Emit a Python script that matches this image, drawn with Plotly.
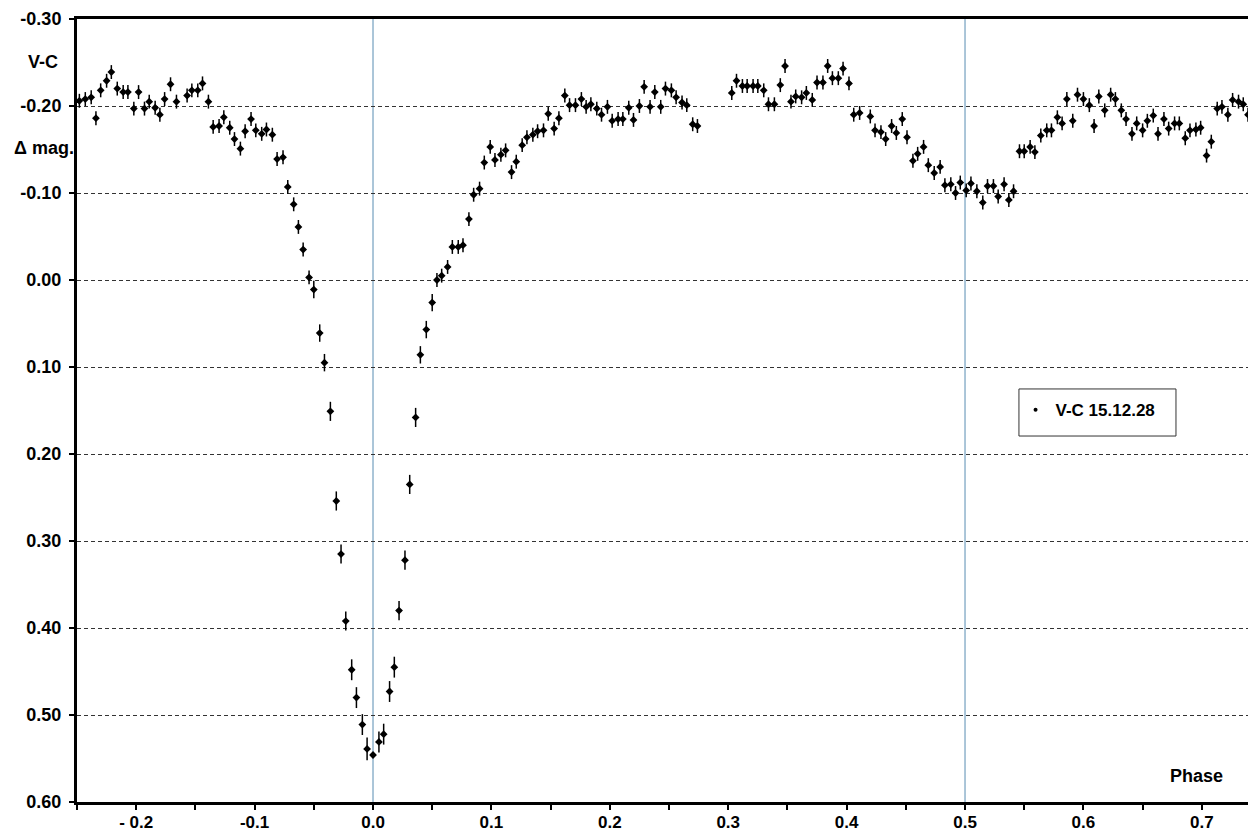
import plotly.graph_objects as go

# ---- data (phase, V-C delta mag) ----
phase_a = [-0.248, -0.243, -0.238, -0.234, -0.230, -0.225, -0.221, -0.216, -0.211, -0.207,
           -0.202, -0.198, -0.193, -0.189, -0.184, -0.180, -0.176, -0.171, -0.166]
dmag_a = [-0.206, -0.208, -0.210, -0.186, -0.218, -0.229, -0.239, -0.220, -0.216, -0.216,
          -0.197, -0.216, -0.197, -0.205, -0.198, -0.190, -0.208, -0.225, -0.205]

phase_b = [-0.157, -0.153, -0.148, -0.144, -0.139, -0.135, -0.130, -0.126, -0.121, -0.117,
           -0.112, -0.108, -0.103, -0.099, -0.094, -0.090, -0.085, -0.081, -0.076, -0.072,
           -0.067, -0.063, -0.059, -0.054]
dmag_b = [-0.212, -0.218, -0.218, -0.226, -0.205, -0.176, -0.177, -0.187, -0.175, -0.162,
          -0.151, -0.171, -0.185, -0.172, -0.168, -0.173, -0.167, -0.139, -0.141, -0.107,
          -0.087, -0.061, -0.035, -0.003]

# primary eclipse (larger uncertainties)
phase_c = [-0.050, -0.045, -0.041, -0.036, -0.031, -0.027, -0.023, -0.018, -0.014, -0.009,
           -0.005, 0.000, 0.005, 0.009, 0.014, 0.018, 0.022, 0.027, 0.031, 0.036,
           0.040, 0.045, 0.050]
dmag_c = [0.011, 0.061, 0.095, 0.151, 0.254, 0.315, 0.392, 0.448, 0.480, 0.511,
          0.539, 0.546, 0.531, 0.522, 0.473, 0.445, 0.380, 0.322, 0.235, 0.158,
          0.086, 0.057, 0.026]
err_c = [0.010, 0.010, 0.010, 0.011, 0.011, 0.011, 0.011, 0.012, 0.012, 0.012,
         0.013, 0.002, 0.012, 0.012, 0.012, 0.012, 0.011, 0.011, 0.011, 0.011,
         0.010, 0.010, 0.010]

phase_d = [0.054, 0.058, 0.063, 0.067, 0.072, 0.076, 0.081, 0.085, 0.090, 0.094,
           0.099, 0.103, 0.108, 0.112, 0.117, 0.121, 0.126, 0.130, 0.135, 0.139,
           0.144, 0.148, 0.153, 0.157, 0.162, 0.166, 0.171, 0.176, 0.180, 0.184,
           0.189, 0.193, 0.198, 0.202, 0.207, 0.211, 0.216, 0.220, 0.225, 0.229,
           0.234, 0.238, 0.243, 0.247, 0.252, 0.256, 0.261, 0.265, 0.270, 0.274]
dmag_d = [0.000, -0.005, -0.015, -0.038, -0.038, -0.040, -0.070, -0.098, -0.105, -0.135,
          -0.153, -0.138, -0.144, -0.149, -0.124, -0.136, -0.155, -0.164, -0.167, -0.171,
          -0.172, -0.191, -0.174, -0.186, -0.212, -0.201, -0.201, -0.208, -0.199, -0.202,
          -0.197, -0.190, -0.199, -0.183, -0.185, -0.185, -0.198, -0.184, -0.200, -0.222,
          -0.199, -0.216, -0.199, -0.220, -0.218, -0.210, -0.204, -0.201, -0.179, -0.177]

phase_e = [0.303, 0.307, 0.312, 0.316, 0.321, 0.325, 0.330, 0.334, 0.339, 0.344,
           0.348, 0.353, 0.357, 0.362, 0.366, 0.371, 0.375, 0.380, 0.384, 0.388,
           0.393, 0.397, 0.402, 0.406, 0.411]
dmag_e = [-0.215, -0.229, -0.223, -0.223, -0.223, -0.223, -0.218, -0.202, -0.202, -0.224,
          -0.246, -0.205, -0.211, -0.210, -0.215, -0.207, -0.227, -0.227, -0.246, -0.232,
          -0.232, -0.243, -0.226, -0.190, -0.192]

phase_f = [0.420, 0.424, 0.429, 0.433, 0.438, 0.442, 0.447, 0.451, 0.456, 0.460,
           0.465, 0.469, 0.474, 0.479, 0.483, 0.488, 0.492, 0.496, 0.501, 0.505,
           0.510, 0.515, 0.519, 0.524, 0.528, 0.533, 0.537, 0.541, 0.546, 0.550,
           0.555, 0.559, 0.564, 0.569, 0.573, 0.578, 0.582, 0.586, 0.591, 0.595,
           0.600, 0.605, 0.609, 0.613, 0.618, 0.623, 0.627, 0.632, 0.636, 0.641,
           0.645, 0.650, 0.654, 0.659, 0.663, 0.668, 0.672, 0.677, 0.681, 0.686,
           0.690, 0.695, 0.699, 0.704, 0.708, 0.713, 0.717, 0.722, 0.726, 0.731,
           0.735, 0.739]
dmag_f = [-0.188, -0.172, -0.170, -0.162, -0.177, -0.169, -0.185, -0.164, -0.137, -0.145,
          -0.153, -0.132, -0.123, -0.130, -0.109, -0.110, -0.100, -0.112, -0.103, -0.111,
          -0.102, -0.089, -0.108, -0.108, -0.096, -0.110, -0.092, -0.102, -0.148, -0.148,
          -0.153, -0.147, -0.166, -0.172, -0.172, -0.187, -0.180, -0.208, -0.183, -0.213,
          -0.208, -0.201, -0.177, -0.211, -0.195, -0.213, -0.208, -0.195, -0.185, -0.168,
          -0.180, -0.172, -0.183, -0.189, -0.168, -0.185, -0.174, -0.180, -0.180, -0.163,
          -0.172, -0.173, -0.175, -0.143, -0.159, -0.197, -0.199, -0.190, -0.207, -0.205,
          -0.202, -0.190]

err_out = 0.008          # typical uncertainty outside the eclipse
err_phase = 0.002        # phase uncertainty

ref_phases = [0.0, 0.5]
x_tick_vals = [-0.25, -0.2, -0.15, -0.1, -0.05, 0.0, 0.05, 0.1, 0.15, 0.2, 0.25,
               0.3, 0.35, 0.4, 0.45, 0.5, 0.55, 0.6, 0.65, 0.7]
x_tick_text = ["", "- 0.2", "", "-0.1", "", "0.0", "", "0.1", "", "0.2", "",
               "0.3", "", "0.4", "", "0.5", "", "0.6", "", "0.7"]
y_tick_vals = [-0.30, -0.20, -0.10, 0.00, 0.10, 0.20, 0.30, 0.40, 0.50, 0.60]
y_tick_text = ["-0.30", "-0.20", "-0.10", "0.00", "0.10", "0.20", "0.30", "0.40", "0.50", "0.60"]
series_name = "V-C 15.12.28"

FONT = "Arial, 'Liberation Sans', Helvetica, sans-serif"
BOLD = dict(family=FONT, size=18, color="black", weight="bold")
BOLD_X = dict(family=FONT, size=17, color="black", weight="bold")

phase_out = phase_a + phase_b + phase_d + phase_e + phase_f
dmag_out = dmag_a + dmag_b + dmag_d + dmag_e + dmag_f

marker = dict(symbol="diamond", size=6, color="black", line=dict(width=0))

fig = go.Figure()
fig.add_trace(go.Scatter(
    x=phase_out, y=dmag_out, mode="markers", marker=marker, showlegend=False,
    error_y=dict(type="constant", value=err_out, color="black", thickness=1.5, width=0),
    error_x=dict(type="constant", value=err_phase, color="black", thickness=1.5, width=0),
))
fig.add_trace(go.Scatter(
    x=phase_c, y=dmag_c, mode="markers", marker=marker, showlegend=False,
    error_y=dict(type="data", array=err_c, color="black", thickness=1.5, width=0),
    error_x=dict(type="constant", value=err_phase, color="black", thickness=1.5, width=0),
))
# legend entry
fig.add_trace(go.Scatter(
    x=[None], y=[None], mode="markers", name=series_name,
    marker=dict(symbol="circle", size=4, color="black"),
))

for p in ref_phases:
    fig.add_vline(x=p, line=dict(color="#8fb3cc", width=1.5), layer="below")

# legend frame
fig.add_shape(type="rect", xref="paper", yref="paper",
              x0=0.8044, x1=0.9385, y0=0.4674, y1=0.5275,
              line=dict(color="#333333", width=1), fillcolor="rgba(0,0,0,0)")

fig.update_layout(
    width=1248, height=834,
    margin=dict(l=77, r=0, t=19, b=32),
    paper_bgcolor="white", plot_bgcolor="white",
    font=dict(family=FONT, size=18, color="black"),
    showlegend=True,
    legend=dict(
        x=0.8015, y=0.5235, xanchor="left", yanchor="top",
        borderwidth=0, bgcolor="rgba(0,0,0,0)",
        font=dict(family=FONT, size=17, color="black", weight="bold"),
        itemwidth=30,
    ),
    xaxis=dict(
        range=[-0.25, 0.739], tickmode="array", tickvals=x_tick_vals, ticktext=x_tick_text,
        ticks="outside", ticklen=5, tickwidth=2, tickcolor="black",
        showline=True, linecolor="black", linewidth=3, mirror=True,
        showgrid=False, zeroline=False, automargin=False, ticklabelstandoff=-2,
        tickfont=BOLD_X,
    ),
    yaxis=dict(
        range=[0.60, -0.30], tickmode="array", tickvals=y_tick_vals, ticktext=y_tick_text,
        ticks="outside", ticklen=5, tickwidth=2, tickcolor="black",
        showline=True, linecolor="black", linewidth=3, mirror=False,
        showgrid=True, gridcolor="#333333", gridwidth=1, griddash="4px,3px",
        zeroline=False, automargin=False, ticklabelstandoff=4,
        tickfont=BOLD,
    ),
    annotations=[
        dict(text="V-C", xref="paper", yref="paper", x=-0.029, y=0.945,
             showarrow=False, xanchor="center", yanchor="middle", font=BOLD),
        dict(text="Δ mag.", xref="paper", yref="paper", x=-0.0286, y=0.835,
             showarrow=False, xanchor="center", yanchor="middle", font=BOLD),
        dict(text="Phase", xref="paper", yref="paper", x=0.9556, y=0.0332,
             showarrow=False, xanchor="center", yanchor="middle", font=BOLD),
    ],
)

fig.write_html("out.html", config={"displayModeBar": False},
               post_script="document.body.style.margin='0px';document.body.style.overflow='hidden';")
